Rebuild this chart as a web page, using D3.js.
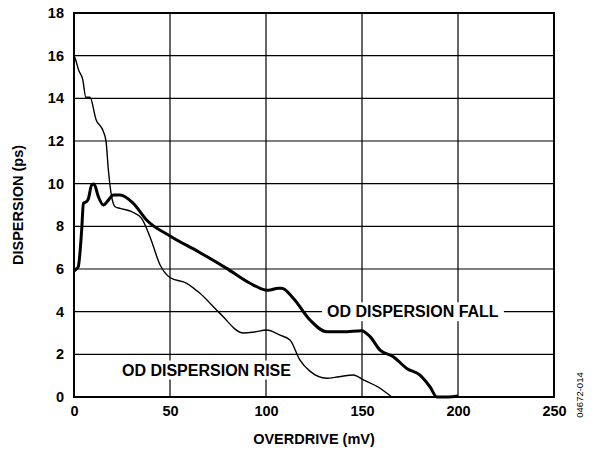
<!DOCTYPE html>
<html>
<head>
<meta charset="utf-8">
<script src="https://cdn.jsdelivr.net/npm/d3@7"></script>
<style>
  body { margin: 0; background: #fff; }
  svg { display: block; font-family: Arial, "Liberation Sans", sans-serif; }
</style>
</head>
<body>
<svg id="chart" width="595" height="457"></svg>
<script>
// overdrive (mV) / dispersion (ps)
const riseX = [0, 0.5, 2.5, 4.5, 6.2, 8.3, 11.5, 15.3, 16.7, 17.9, 19.6, 21.4, 24, 30, 35.2, 39.6, 44.8, 50,
  58.7, 65.6, 76, 88.2, 94, 100.3, 107.3, 112.5, 117.7, 123, 131.6, 138, 145.5, 150.7, 159.4, 165.5];
const riseY = [16, 15.9, 15.3, 14.9, 14.05, 14.05, 13.0, 12.44, 11.97, 10.64, 9.39, 8.92, 8.84, 8.69, 8.37, 7.5, 6.2, 5.6,
  5.33, 4.86, 3.92, 3.0, 3.05, 3.14, 2.9, 2.67, 1.73, 1.2, 0.88, 0.95, 1.03, 0.8, 0.41, 0];

const fallX = [0, 0.5, 2.2, 4, 4.9, 6.6, 7.5, 9.2, 10.4, 12.7, 15.3, 17.9, 20.5, 24, 30.9, 37.8, 50, 65, 79.5, 91.7,
  99.5, 101.2, 106.4, 108.2, 114.2, 122.9, 131.6, 140.3, 149.8, 154.2, 159.4, 166.3, 173.3, 180.2, 185.4, 189, 195, 200];
const fallY = [5.9, 5.95, 6.1, 7.83, 9.08, 9.16, 9.3, 9.94, 9.98, 9.39, 9.0, 9.23, 9.47, 9.47, 9.08, 8.3, 7.55, 6.8, 6.03, 5.33,
  5.02, 5.0, 5.1, 5.1, 4.63, 3.61, 3.06, 3.06, 3.11, 2.83, 2.2, 1.89, 1.34, 1.03, 0.48, 0, 0, 0.05];

const xTicks = [0, 50, 100, 150, 200, 250];
const yTicks = [0, 2, 4, 6, 8, 10, 12, 14, 16, 18];

const margin = {left: 74, top: 13, right: 41, bottom: 60};
const width = 595 - margin.left - margin.right;
const height = 457 - margin.top - margin.bottom;

const svg = d3.select('svg#chart');
const g = svg.append('g').attr('transform', 'translate(' + margin.left + ',' + margin.top + ')');

const xScale = d3.scaleLinear().domain([0, 250]).range([0, width]);
const yScale = d3.scaleLinear().domain([0, 18]).range([height, 0]);

// grid
g.append('g')
  .selectAll('line.vx').data(xTicks.slice(1, -1)).enter().append('line')
  .attr('x1', d => xScale(d)).attr('x2', d => xScale(d))
  .attr('y1', 0).attr('y2', height)
  .attr('stroke', '#000').attr('stroke-width', 1.2);
g.append('g')
  .selectAll('line.hy').data(yTicks.slice(1, -1)).enter().append('line')
  .attr('x1', 0).attr('x2', width)
  .attr('y1', d => yScale(d)).attr('y2', d => yScale(d))
  .attr('stroke', '#000').attr('stroke-width', 1.2);

// axes (labels only, frame drawn separately)
const xAxis = g.append('g')
  .attr('transform', 'translate(0,' + height + ')')
  .call(d3.axisBottom(xScale).tickValues(xTicks).tickSize(0).tickPadding(9));
const yAxis = g.append('g')
  .call(d3.axisLeft(yScale).tickValues(yTicks).tickSize(0).tickPadding(10));
[xAxis, yAxis].forEach(a => {
  a.select('.domain').remove();
  a.selectAll('text')
    .attr('font-family', 'Arial, "Liberation Sans", sans-serif')
    .attr('font-size', 14.5).attr('font-weight', 'bold').attr('fill', '#000');
});

// series labels with white backing
const labels = [
  {text: 'OD DISPERSION FALL', x: 131.8, y: 4},
  {text: 'OD DISPERSION RISE', x: 25, y: 1.27}
];
const labelG = g.append('g');
labels.forEach(l => {
  const t = labelG.append('text')
    .attr('x', xScale(l.x)).attr('y', yScale(l.y))
    .attr('dy', '0.35em')
    .attr('font-size', 16).attr('font-weight', 'bold')
    .text(l.text);
  const bb = t.node().getBBox();
  labelG.insert('rect', 'text')
    .attr('x', bb.x - 5).attr('y', bb.y - 1)
    .attr('width', bb.width + 10).attr('height', bb.height + 2)
    .attr('fill', '#fff');
});

// curves
const line = d3.line()
  .x(d => xScale(d[0]))
  .y(d => yScale(d[1]))
  .curve(d3.curveMonotoneX);

g.append('path')
  .datum(riseX.map((x, i) => [x, riseY[i]]))
  .attr('d', line)
  .attr('fill', 'none').attr('stroke', '#000').attr('stroke-width', 1.4)
  .attr('stroke-linejoin', 'round');
g.append('path')
  .datum(fallX.map((x, i) => [x, fallY[i]]))
  .attr('d', line)
  .attr('fill', 'none').attr('stroke', '#000').attr('stroke-width', 3)
  .attr('stroke-linejoin', 'round');

// frame
g.append('rect')
  .attr('width', width).attr('height', height)
  .attr('fill', 'none').attr('stroke', '#000').attr('stroke-width', 2);

// axis titles
svg.append('text')
  .attr('x', margin.left + width / 2).attr('y', 444)
  .attr('text-anchor', 'middle')
  .attr('font-size', 14.5).attr('font-weight', 'bold')
  .text('OVERDRIVE (mV)');
svg.append('text')
  .attr('transform', 'translate(23,' + (margin.top + height / 2) + ') rotate(-90)')
  .attr('text-anchor', 'middle')
  .attr('font-size', 14.5).attr('font-weight', 'bold')
  .text('DISPERSION (ps)');

svg.append('text')
  .attr('transform', 'translate(583,395) rotate(-90)')
  .attr('text-anchor', 'middle')
  .attr('font-size', 9.5)
  .text('04672-014');
</script>
</body>
</html>
